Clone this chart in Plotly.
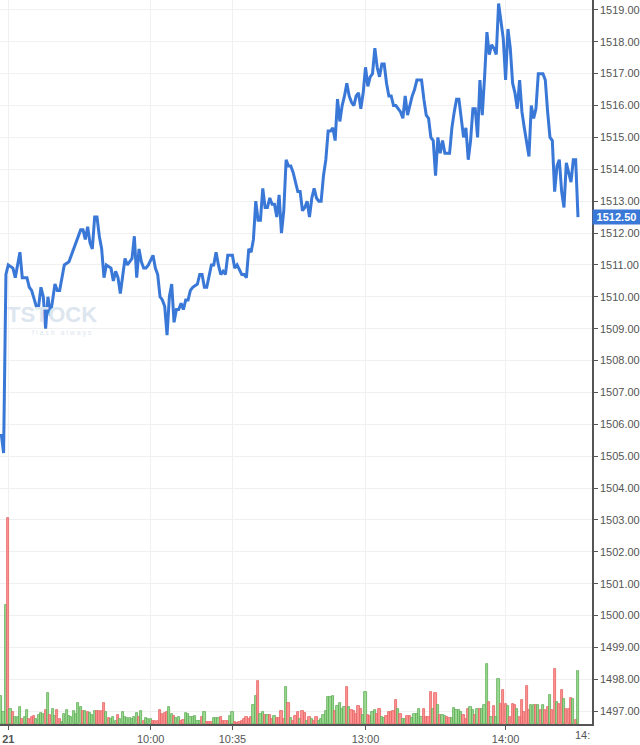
import plotly.graph_objects as go

# ---------------- data ----------------
# price line: (minute index from session start, price)
price_points = [
    (0, 1505.7), (1, 1505.1), (2, 1510.7), (3, 1511.0), (5, 1510.9), (6, 1510.6), (8, 1511.4), (9, 1510.6),
    (11, 1510.6), (12, 1510.3), (13, 1510.2), (15, 1509.7), (16, 1509.7), (17, 1510.3), (18, 1510.0), (19, 1509.0),
    (20, 1510.0), (21, 1509.4), (23, 1510.4), (24, 1510.2), (25, 1510.2), (27, 1511.0), (29, 1511.1), (31, 1511.5),
    (32, 1511.7), (34, 1512.1), (35, 1512.1), (36, 1511.8), (37, 1512.2), (38, 1511.7), (39, 1511.5), (40, 1512.5),
    (41, 1512.5), (42, 1511.9), (43, 1511.5), (44, 1510.6), (45, 1511.0), (47, 1510.9), (48, 1510.5), (49, 1510.8),
    (50, 1510.6), (51, 1510.1), (53, 1511.2), (54, 1511.0), (56, 1511.2), (57, 1511.9), (58, 1510.6), (59, 1511.5),
    (60, 1511.1), (61, 1510.9), (62, 1510.9), (63, 1511.0), (65, 1511.3), (66, 1510.9), (67, 1510.7), (68, 1510.0),
    (69, 1509.9), (70, 1509.7), (71, 1508.8), (72, 1510.0), (73, 1510.4), (74, 1509.2), (75, 1509.6), (76, 1509.6),
    (77, 1509.8), (78, 1509.6), (79, 1509.9), (80, 1509.9), (81, 1510.2), (82, 1510.3), (84, 1510.4), (85, 1510.7),
    (86, 1510.7), (87, 1510.3), (88, 1510.3), (90, 1511.0), (91, 1511.0), (92, 1511.4), (93, 1511.0), (94, 1510.7),
    (95, 1510.8), (96, 1510.7), (97, 1511.3), (99, 1511.3), (100, 1510.9), (101, 1511.0), (103, 1510.7), (104, 1510.7),
    (105, 1510.6), (106, 1511.5), (107, 1511.4), (108, 1511.8), (109, 1513.0), (110, 1512.4), (111, 1512.4), (112, 1513.4),
    (113, 1512.8), (114, 1512.8), (115, 1513.1), (116, 1512.9), (117, 1512.9), (118, 1512.5), (119, 1513.2), (120, 1512.0),
    (121, 1512.7), (122, 1514.3), (123, 1514.1), (124, 1514.1), (125, 1513.9), (126, 1513.6), (127, 1513.3), (128, 1513.3),
    (129, 1512.7), (130, 1512.8), (131, 1513.0), (132, 1512.5), (133, 1513.1), (134, 1513.4), (135, 1513.1), (136, 1513.0),
    (137, 1513.0), (138, 1513.8), (139, 1514.3), (140, 1515.2), (141, 1515.2), (142, 1515.3), (143, 1514.9), (144, 1516.2),
    (145, 1515.5), (146, 1516.0), (147, 1516.3), (148, 1516.7), (149, 1516.3), (150, 1516.1), (151, 1516.0), (152, 1516.3),
    (153, 1516.4), (154, 1515.9), (155, 1516.4), (156, 1517.2), (157, 1516.6), (158, 1516.9), (159, 1517.0), (160, 1517.8),
    (161, 1517.2), (162, 1516.9), (163, 1517.3), (164, 1517.3), (165, 1516.7), (166, 1516.3), (167, 1516.3), (168, 1516.0),
    (169, 1516.0), (171, 1515.8), (172, 1515.6), (173, 1516.3), (174, 1515.7), (176, 1516.3), (177, 1516.5), (178, 1516.8),
    (180, 1516.8), (181, 1516.2), (182, 1515.7), (183, 1515.6), (184, 1515.0), (185, 1514.9), (186, 1513.8), (187, 1515.0),
    (188, 1514.5), (189, 1514.9), (190, 1514.5), (192, 1514.5), (193, 1515.3), (194, 1515.8), (195, 1516.2), (196, 1516.2),
    (197, 1515.5), (198, 1515.0), (199, 1515.3), (200, 1514.3), (201, 1514.9), (202, 1515.9), (203, 1515.9), (204, 1515.0),
    (205, 1516.8), (206, 1515.7), (207, 1516.9), (208, 1518.3), (209, 1517.6), (210, 1517.9), (211, 1517.8), (212, 1517.6),
    (213, 1519.2), (214, 1518.6), (215, 1518.1), (216, 1516.8), (217, 1518.4), (218, 1517.8), (219, 1516.7), (220, 1516.4),
    (221, 1515.9), (222, 1516.8), (223, 1515.8), (224, 1515.3), (225, 1514.9), (226, 1514.4), (227, 1516.0), (228, 1515.6),
    (229, 1515.9), (230, 1517.0), (232, 1517.0), (233, 1516.8), (234, 1515.8), (235, 1515.0), (236, 1514.9), (237, 1513.3),
    (238, 1514.1), (239, 1514.3), (240, 1513.3), (241, 1512.8), (242, 1514.2), (243, 1513.9), (244, 1513.6), (245, 1514.3),
    (246, 1514.3), (247, 1512.5),
]
minute_index = [p[0] for p in price_points]
price = [p[1] for p in price_points]
last_price = 1512.50

# volume per minute (index 0..247); direction U = up (green), D = down (red)
volume = [
    28, 12, 120, 207, 15, 12, 7, 7, 17, 5, 7, 14, 5, 7, 8, 5, 9, 11, 10, 14,
    31, 9, 15, 8, 14, 5, 2, 10, 14, 8, 7, 13, 10, 21, 17, 13, 13, 12, 11, 9,
    13, 13, 13, 13, 21, 12, 6, 5, 7, 3, 9, 5, 12, 7, 6, 6, 5, 7, 11, 7,
    13, 3, 6, 5, 5, 3, 3, 3, 14, 10, 11, 12, 17, 10, 8, 6, 7, 3, 4, 11,
    10, 7, 7, 8, 3, 3, 7, 12, 2, 2, 2, 6, 6, 6, 7, 3, 3, 3, 8, 12,
    2, 1, 2, 3, 5, 7, 5, 7, 19, 28, 43, 10, 12, 9, 9, 9, 5, 8, 6, 6,
    13, 5, 37, 21, 6, 3, 8, 12, 5, 13, 11, 3, 7, 5, 3, 7, 3, 5, 9, 13,
    27, 27, 28, 13, 18, 21, 15, 17, 37, 17, 14, 13, 10, 18, 15, 9, 32, 9, 8, 12,
    14, 10, 15, 7, 6, 8, 12, 12, 13, 24, 15, 10, 5, 5, 8, 8, 6, 10, 10, 15,
    7, 15, 7, 7, 32, 15, 31, 19, 9, 9, 8, 7, 6, 6, 16, 14, 14, 12, 9, 5,
    15, 17, 14, 9, 15, 15, 15, 19, 60, 22, 7, 18, 7, 45, 20, 34, 20, 18, 7, 20,
    19, 15, 7, 24, 12, 38, 14, 19, 19, 19, 19, 14, 19, 14, 17, 29, 14, 55, 22, 20,
    34, 25, 15, 15, 26, 25, 4, 53,
]
direction = (
    "UUUDUDUUUDUUDDDUUUUD"
    "UDUUDDUUUUUUUUUDUDUU"
    "UDDDDUDUUUDUUUUUUUUD"
    "UDUUUDDDDDDDUUDUUDDU"
    "UUUUUUDUDDDUUUDDDDUU"
    "DDDDDDDDUUDUUDUDDUDD"
    "DDUDUDDDUDDUDUDDUUUU"
    "UUUDUUUUDUDDDDDUUDDU"
    "UDDUUDDDDDUDUUDDUUUU"
    "UDDDDUDUDUUDDUUUUUDD"
    "DUUDUDUUUDUDUUDDDUDD"
    "DUDDDDDUUDUDUDDUDDUD"
    "DUDDDUDU"
)
vol_minutes = list(range(len(volume)))

tick_minutes = [3, 64, 99, 156, 216]
tick_labels = ["<b>21</b>", "10:00", "10:35", "13:00", "14:00"]
clipped_label = "14:"

# ---------------- style ----------------
W, H = 640, 745
ML, MR, MT, MB = 0, 48, 0, 17
PLOT_W = W - ML - MR
PLOT_H = H - MT - MB
FONT = "Liberation Sans, Arial, sans-serif"
LINE_BLUE = "#3a78d8"
AXIS_COL = "#555555"
GRID_COL = "#f0f0f0"

fill_col = {"U": "rgba(150,214,140,0.95)", "D": "rgba(255,140,140,0.95)"}
edge_col = {"U": "#5fae55", "D": "#e46464"}

fig = go.Figure()

fig.add_trace(go.Bar(
    x=vol_minutes, y=volume, yaxis="y2",
    width=0.95,
    marker=dict(color=[fill_col[d] for d in direction],
                line=dict(color=[edge_col[d] for d in direction], width=0.8)),
    hoverinfo="skip", showlegend=False,
))

fig.add_trace(go.Scatter(
    x=minute_index, y=price, mode="lines",
    line=dict(color=LINE_BLUE, width=3),
    showlegend=False, hoverinfo="skip",
))

fig.update_layout(
    width=W, height=H,
    margin=dict(l=ML, r=MR, t=MT, b=MB),
    paper_bgcolor="white", plot_bgcolor="white",
    bargap=0,
    font=dict(family=FONT, size=11, color="#555555"),
    xaxis=dict(
        range=[-0.54, 253.0],
        tickmode="array", tickvals=tick_minutes, ticktext=tick_labels,
        showgrid=True, gridcolor=GRID_COL, gridwidth=1,
        showline=True, linecolor=AXIS_COL, linewidth=1.5,
        ticks="outside", ticklen=4, tickcolor=AXIS_COL,
        tickfont=dict(family=FONT, size=11, color="#555555"),
        zeroline=False, fixedrange=True,
    ),
    yaxis=dict(
        side="right",
        range=[1496.60, 1519.31],
        tickmode="linear", tick0=1497, dtick=1, tickformat=".2f",
        showgrid=True, gridcolor=GRID_COL, gridwidth=1,
        showline=True, linecolor=AXIS_COL, linewidth=1.5,
        ticks="outside", ticklen=4, tickcolor=AXIS_COL,
        tickfont=dict(family=FONT, size=11, color="#555555"),
        zeroline=False, fixedrange=True,
    ),
    yaxis2=dict(
        overlaying="y", side="left", range=[0, PLOT_H],
        visible=False, fixedrange=True,
    ),
)

annotations = [
    # watermark
    dict(xref="paper", yref="paper", x=98 / PLOT_W, y=1 - 330 / PLOT_H,
         xanchor="right", yanchor="bottom", showarrow=False, borderpad=0,
         text="<b>TSTOCK</b>", font=dict(family=FONT, size=22, color="#dde6ef")),
    dict(xref="paper", yref="paper", x=93 / PLOT_W, y=1 - 330 / PLOT_H,
         xanchor="right", yanchor="top", showarrow=False, borderpad=0,
         text="f l a s h &nbsp; a l w a y s", font=dict(family=FONT, size=7, color="#dde6ef")),
    # last price tag
    dict(xref="paper", yref="y", x=1, y=last_price, xanchor="left", yanchor="middle",
         showarrow=False, text="<b>%.2f</b>" % last_price,
         bgcolor=LINE_BLUE, borderpad=1, width=45, height=12, align="center",
         font=dict(family=FONT, size=11, color="white")),
    # clipped last time label
    dict(xref="paper", yref="paper", x=1, y=0, xanchor="right", yanchor="top",
         yshift=-3, showarrow=False, text=clipped_label,
         font=dict(family=FONT, size=11, color="#555555")),
]
fig.update_layout(annotations=annotations)

fig.write_html("out.html")
